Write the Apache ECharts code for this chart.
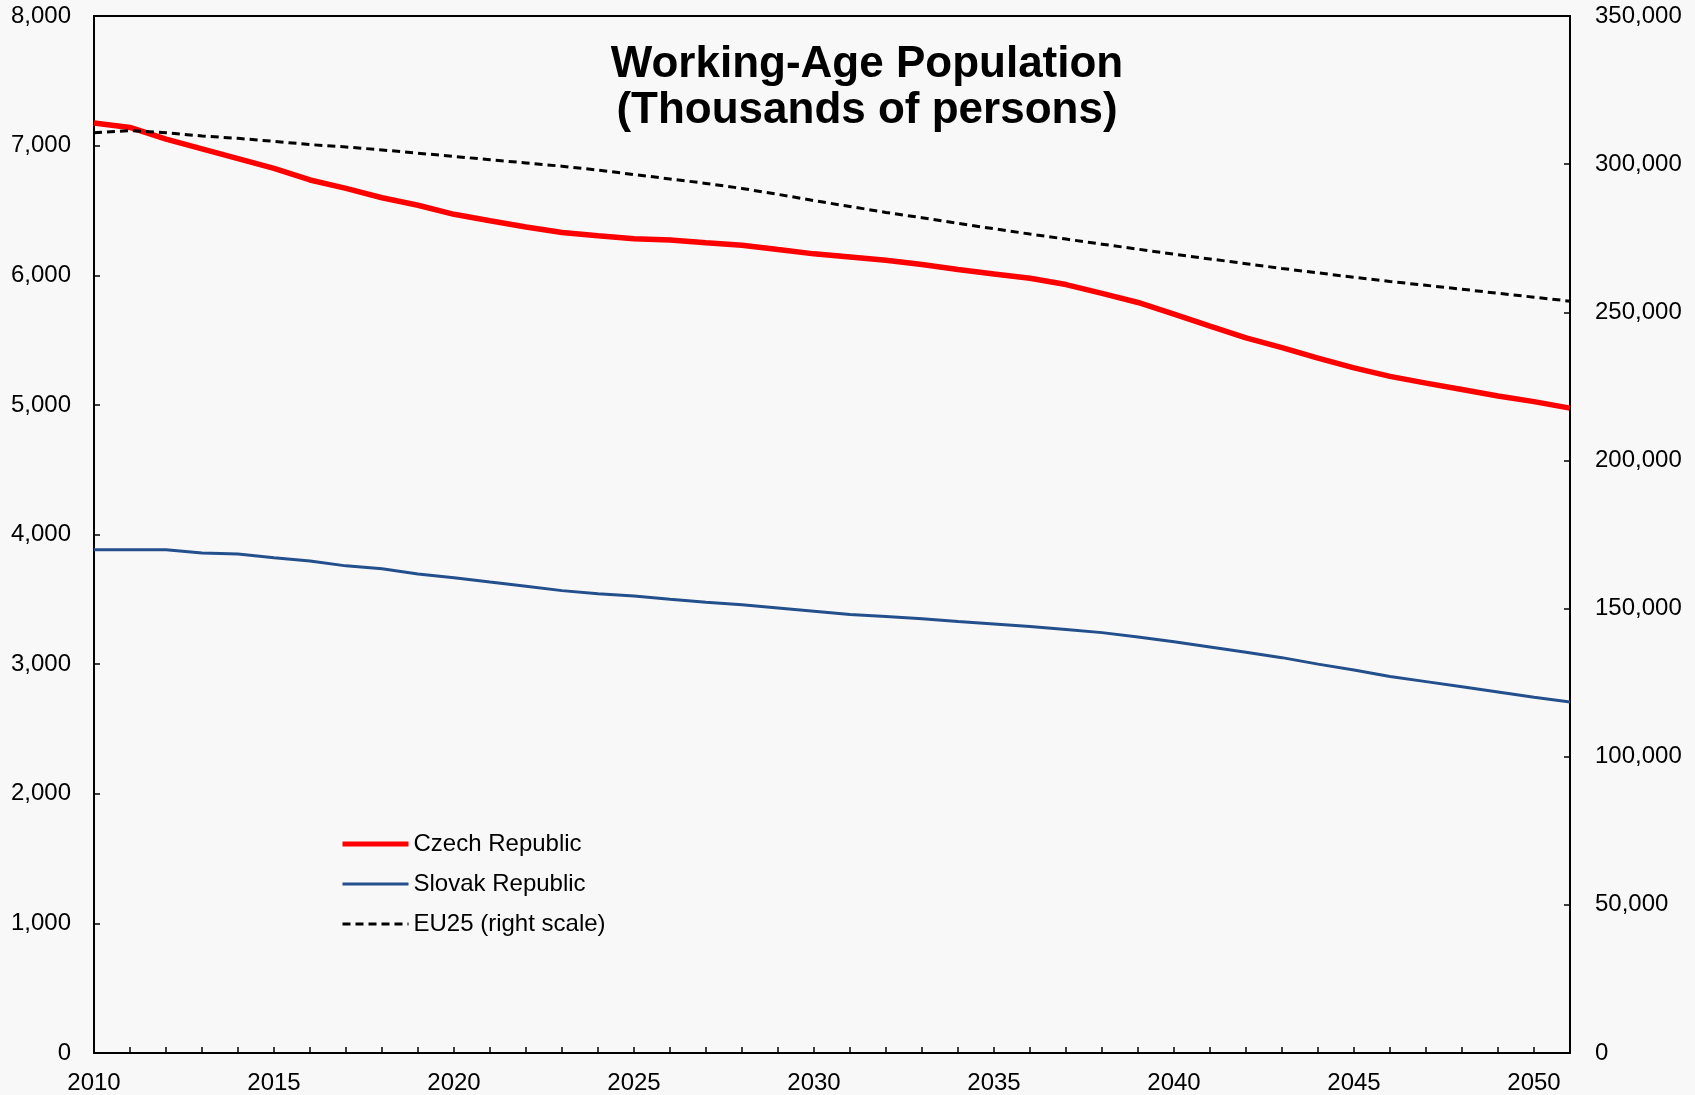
<!DOCTYPE html>
<html>
<head>
<meta charset="utf-8">
<script src="https://cdn.jsdelivr.net/npm/echarts@6/dist/echarts.min.js"></script>
<style>
  html, body { margin: 0; padding: 0; background: #f8f8f8; }
  #chart { width: 1695px; height: 1095px; }
</style>
</head>
<body>
<div id="chart"></div>
<script>
// years on the x axis
const years = []
for (let y = 2010; y <= 2051; y++) years.push(String(y))

// working-age population, thousands of persons
const czech = [
  7175, 7140, 7050, 6975, 6900, 6825, 6735, 6670, 6598, 6540,
  6470, 6420, 6372, 6330, 6305, 6282, 6272, 6250, 6232, 6198,
  6165, 6140, 6115, 6083, 6045, 6010, 5977, 5928, 5860, 5790,
  5700, 5608, 5517, 5442, 5360, 5285, 5220, 5168, 5118, 5068,
  5025, 4975
]
const slovak = [
  3883, 3883, 3883, 3858, 3850, 3820, 3795, 3758, 3735, 3695,
  3667, 3633, 3600, 3567, 3542, 3525, 3500, 3478, 3458, 3433,
  3408, 3383, 3367, 3350, 3328, 3310, 3290, 3267, 3243, 3210,
  3172, 3132, 3092, 3050, 3000, 2955, 2905, 2865, 2825, 2785,
  2745, 2708
]
// EU25, right scale
const eu25 = [
  310600, 311300, 310600, 309500, 308700, 307700, 306600, 305800, 304800, 303700,
  302600, 301500, 300400, 299300, 298000, 296500, 295000, 293500, 291800, 289800,
  287700, 285700, 283700, 281900, 280000, 278200, 276400, 274700, 273000, 271300,
  269600, 268000, 266400, 264800, 263300, 261800, 260400, 259100, 257800, 256400,
  255100, 253750
]

const fontFamily = '"Liberation Sans", Arial, sans-serif'
const fmt = v => v.toLocaleString('en-US')

const chart = echarts.init(document.getElementById('chart'))

const option = {
  backgroundColor: '#f8f8f8',
  animation: false,
  title: {
    text: 'Working-Age Population\n(Thousands of persons)',
    left: 862,
    top: 37,
    textAlign: 'center',
    textStyle: {
      fontFamily: fontFamily,
      fontSize: 44,
      fontWeight: 'bold',
      color: '#000',
      lineHeight: 46
    }
  },
  grid: {
    left: 94,
    right: 125,
    top: 16,
    bottom: 41,
    show: true,
    borderColor: '#000',
    borderWidth: 2,
    backgroundColor: 'transparent'
  },
  legend: {
    orient: 'vertical',
    left: 335,
    top: 827,
    itemWidth: 66,
    itemHeight: 14,
    itemGap: 16,
    itemStyle: { opacity: 0 },
    textStyle: {
      fontFamily: fontFamily,
      fontSize: 24,
      color: '#000'
    },
    data: [
      { name: 'Czech Republic', lineStyle: { width: 5, color: '#ff0000' } },
      { name: 'Slovak Republic', lineStyle: { width: 3, color: '#234f8d' } },
      { name: 'EU25 (right scale)', lineStyle: { width: 3, color: '#000', type: [8, 5] } }
    ]
  },
  xAxis: {
    type: 'category',
    data: years,
    boundaryGap: false,
    axisLine: { lineStyle: { color: '#000', width: 2 } },
    axisTick: {
      inside: true,
      length: 6,
      interval: 0,
      lineStyle: { color: '#000', width: 1.5 }
    },
    axisLabel: {
      interval: 4,
      margin: 18,
      fontFamily: fontFamily,
      fontSize: 24,
      color: '#000'
    },
    splitLine: { show: false }
  },
  yAxis: [{
    type: 'value',
    min: 0,
    max: 8000,
    interval: 1000,
    position: 'left',
    axisLine: { show: true, lineStyle: { color: '#000', width: 2 } },
    axisTick: { show: true, inside: true, length: 6, lineStyle: { color: '#000', width: 1.5 } },
    axisLabel: {
      formatter: fmt,
      margin: 23,
      fontFamily: fontFamily,
      fontSize: 24,
      color: '#000'
    },
    splitLine: { show: false }
  }, {
    type: 'value',
    min: 0,
    max: 350000,
    interval: 50000,
    position: 'right',
    axisLine: { show: true, lineStyle: { color: '#000', width: 2 } },
    axisTick: { show: true, inside: true, length: 6, lineStyle: { color: '#000', width: 1.5 } },
    axisLabel: {
      formatter: fmt,
      margin: 25,
      fontFamily: fontFamily,
      fontSize: 24,
      color: '#000'
    },
    splitLine: { show: false }
  }],
  series: [{
    name: 'Czech Republic',
    type: 'line',
    data: czech,
    yAxisIndex: 0,
    symbol: 'none',
    lineStyle: { color: '#ff0000', width: 5.5 },
    itemStyle: { color: '#ff0000' }
  }, {
    name: 'Slovak Republic',
    type: 'line',
    data: slovak,
    yAxisIndex: 0,
    symbol: 'none',
    lineStyle: { color: '#234f8d', width: 3 },
    itemStyle: { color: '#234f8d' }
  }, {
    name: 'EU25 (right scale)',
    type: 'line',
    data: eu25,
    yAxisIndex: 1,
    symbol: 'none',
    lineStyle: { color: '#000', width: 3, type: [8, 5] },
    itemStyle: { color: '#000' }
  }]
}

chart.setOption(option)
</script>
</body>
</html>
